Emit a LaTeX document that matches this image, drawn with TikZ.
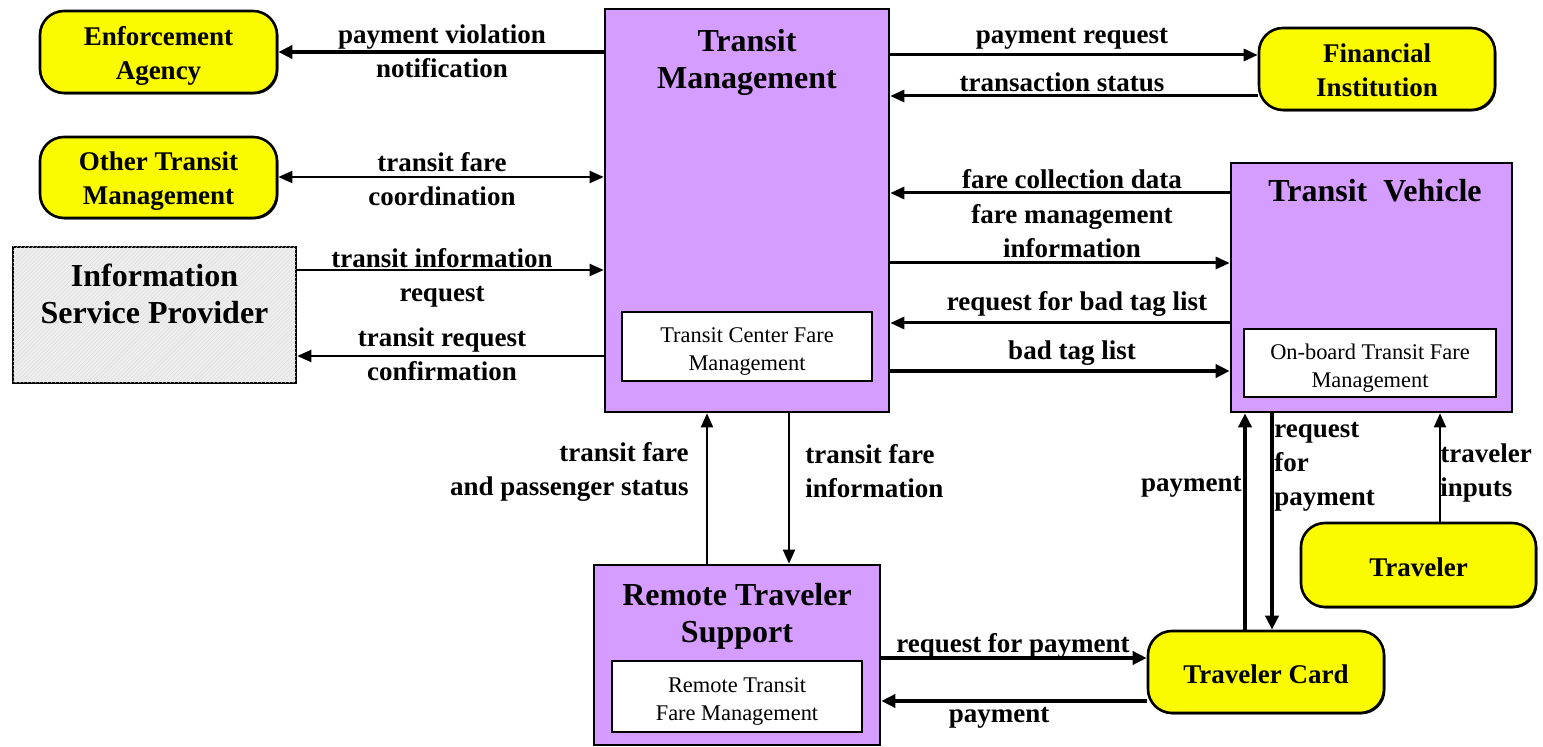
\documentclass[tikz,border=0pt]{standalone}
\usepackage{fontspec}
\setmainfont{Liberation Serif}
\usetikzlibrary{arrows.meta,patterns.meta,shadows}
\definecolor{tmpurple}{RGB}{213,157,255}
\definecolor{extyellow}{RGB}{250,250,0}
\definecolor{ispgray}{RGB}{238,238,238}
\tikzset{
  box/.style={draw=black, line width=1.3pt, inner sep=0pt,
    drop shadow={shadow xshift=0.7pt, shadow yshift=-0.7pt, fill=black, opacity=0.85}},
  purplebox/.style={box, fill=tmpurple},
  termbox/.style={box, fill=extyellow, rounded corners=12pt},
  innerbox/.style={draw=black, line width=1.3pt, fill=white},
  innertext/.style={align=center, inner sep=0pt, font=\fontsize{11.2}{14}\selectfont},
  title/.style={align=center, inner sep=0pt, font=\bfseries\fontsize{16}{18.5}\selectfont},
  flowlabel/.style={align=center, inner sep=0pt, font=\bfseries\fontsize{13.5}{17}\selectfont},
  flow/.style={line width=1pt, -{Triangle[length=7pt,width=6pt]}},
  medflow/.style={line width=1.5pt, -{Triangle[length=7pt,width=6pt]}},
  heavyflow/.style={line width=2.2pt, -{Triangle[length=7pt,width=6.5pt]}},
}
\begin{document}
\begin{tikzpicture}[x=0.5pt, y=-0.5pt]
\useasboundingbox (0,0) rectangle (1543,747);

% ---- central and vehicle subsystems ----
\node[purplebox, minimum width=142pt, minimum height=201.5pt] (TM) at (747,210.5) {};
\node[title] (TMt) at (747,62) {Transit\\Management};
\node[innerbox, minimum width=125pt, minimum height=34.5pt] (TCFM) at (747,346.5) {};
\node[innertext] (TCFMt) at (747,351.5) {Transit Center Fare\\Management};

\node[purplebox, minimum width=140.5pt, minimum height=124.5pt] (TV) at (1371.5,287.5) {};
\node[title] (TVt) at (1375,191) {Transit\ \ Vehicle};
\node[innerbox, minimum width=126pt, minimum height=34pt] (OBTFM) at (1370,363) {};
\node[innertext] (OBTFMt) at (1370,368) {On-board Transit Fare\\Management};

\node[purplebox, minimum width=143pt, minimum height=90pt] (RTS) at (737,655) {};
\node[title] (RTSt) at (737,616.5) {Remote Traveler\\Support};
\node[innerbox, minimum width=125pt, minimum height=35.5pt] (RTFM) at (737,696.5) {};
\node[innertext] (RTFMt) at (737,702) {Remote Transit\\Fare Management};

% ---- terminators ----
\node[termbox, minimum width=118.5pt, minimum height=41pt] (EA) at (158.5,52) {};
\node[flowlabel] (EAt) at (158.5,56) {Enforcement\\Agency};
\node[termbox, minimum width=118.5pt, minimum height=40.5pt] (OTM) at (158.5,177.5) {};
\node[flowlabel] (OTMt) at (158.5,181.5) {Other Transit\\Management};
\node[termbox, minimum width=118pt, minimum height=41pt] (FI) at (1377,69) {};
\node[flowlabel] (FIt) at (1377,70) {Financial\\Institution};
\node[termbox, minimum width=117.5pt, minimum height=42pt] (TR) at (1418.5,565) {};
\node[flowlabel] (TRt) at (1418.5,567) {Traveler};
\node[termbox, minimum width=118pt, minimum height=41pt] (TC) at (1266,672) {};
\node[flowlabel] (TCt) at (1266,674) {Traveler Card};

\node[box, fill=ispgray, minimum width=141.5pt, minimum height=68pt,
  postaction={pattern={Lines[angle=45,distance=1.4pt,line width=0.2pt]}, pattern color=gray!28}] (ISP) at (154.5,315) {};
\node[title] (ISPt) at (154.5,294) {Information\\Service Provider};

% ---- flows on the left ----
\draw[heavyflow] (TM.west |- 0,52) -- (EA.east |- 0,52);
\node[flowlabel] (l1) at (442,51) {payment violation\\notification};
\draw[flow, {Triangle[length=7pt,width=6pt]}-{Triangle[length=7pt,width=6pt]}] (OTM.east |- 0,177) -- (TM.west |- 0,177);
\node[flowlabel] (l2) at (442,179) {transit fare\\coordination};
\draw[flow] (ISP.east |- 0,270) -- (TM.west |- 0,270);
\node[flowlabel] (l3) at (442,277.5) {transit information\\request};
\draw[flow] (TM.west |- 0,356) -- (ISP.east |- 0,356);
\node[flowlabel] (l4) at (442,354.5) {transit request\\confirmation};

% ---- flows on the right ----
\draw[medflow] (TM.east |- 0,55) -- (FI.west |- 0,55);
\node[flowlabel] (l5) at (1072,39) {payment request};
\draw[medflow] (FI.west |- 0,96) -- (TM.east |- 0,96);
\node[flowlabel] (l6) at (1062,82) {transaction status};
\draw[medflow] (TV.west |- 0,193) -- (TM.east |- 0,193);
\node[flowlabel] (l7) at (1072,179) {fare collection data};
\draw[medflow] (TM.east |- 0,263) -- (TV.west |- 0,263);
\node[flowlabel] (l8) at (1072,231.5) {fare management\\information};
\draw[medflow] (TV.west |- 0,323) -- (TM.east |- 0,323);
\node[flowlabel] (l9) at (1077,304) {request for bad tag list};
\draw[heavyflow] (TM.east |- 0,371) -- (TV.west |- 0,371);
\node[flowlabel] (l10) at (1072,353) {bad tag list};

% ---- flows below the transit management ----
\draw[flow] (RTS.north -| 707,0) -- (TM.south -| 707,0);
\node[flowlabel, align=right, anchor=east] (l11) at (689,472) {transit fare\\and passenger status};
\draw[flow] (TM.south -| 789,0) -- (RTS.north -| 789,0);
\node[flowlabel, align=left, anchor=west] (l12) at (805,471) {transit fare\\information};

% ---- traveler card flows ----
\draw[heavyflow] (RTS.east |- 0,658) -- (TC.west |- 0,658);
\node[flowlabel] (l13) at (1013,646) {request for payment};
\draw[heavyflow] (TC.west |- 0,701) -- (RTS.east |- 0,701);
\node[flowlabel] (l14) at (999,718) {payment};
\draw[heavyflow] (TC.north -| 1245,0) -- (TV.south -| 1245,0);
\node[flowlabel, anchor=east] (l15) at (1242,487) {payment};
\draw[heavyflow] (TV.south -| 1272,0) -- (TC.north -| 1272,0);
\node[flowlabel, align=left, anchor=west] (l16) at (1274,467) {request\\for\\payment};
\draw[flow] (TR.north -| 1440,0) -- (TV.south -| 1440,0);
\node[flowlabel, align=left, anchor=west] (l17) at (1440,473) {traveler\\inputs};
\end{tikzpicture}
\end{document}
